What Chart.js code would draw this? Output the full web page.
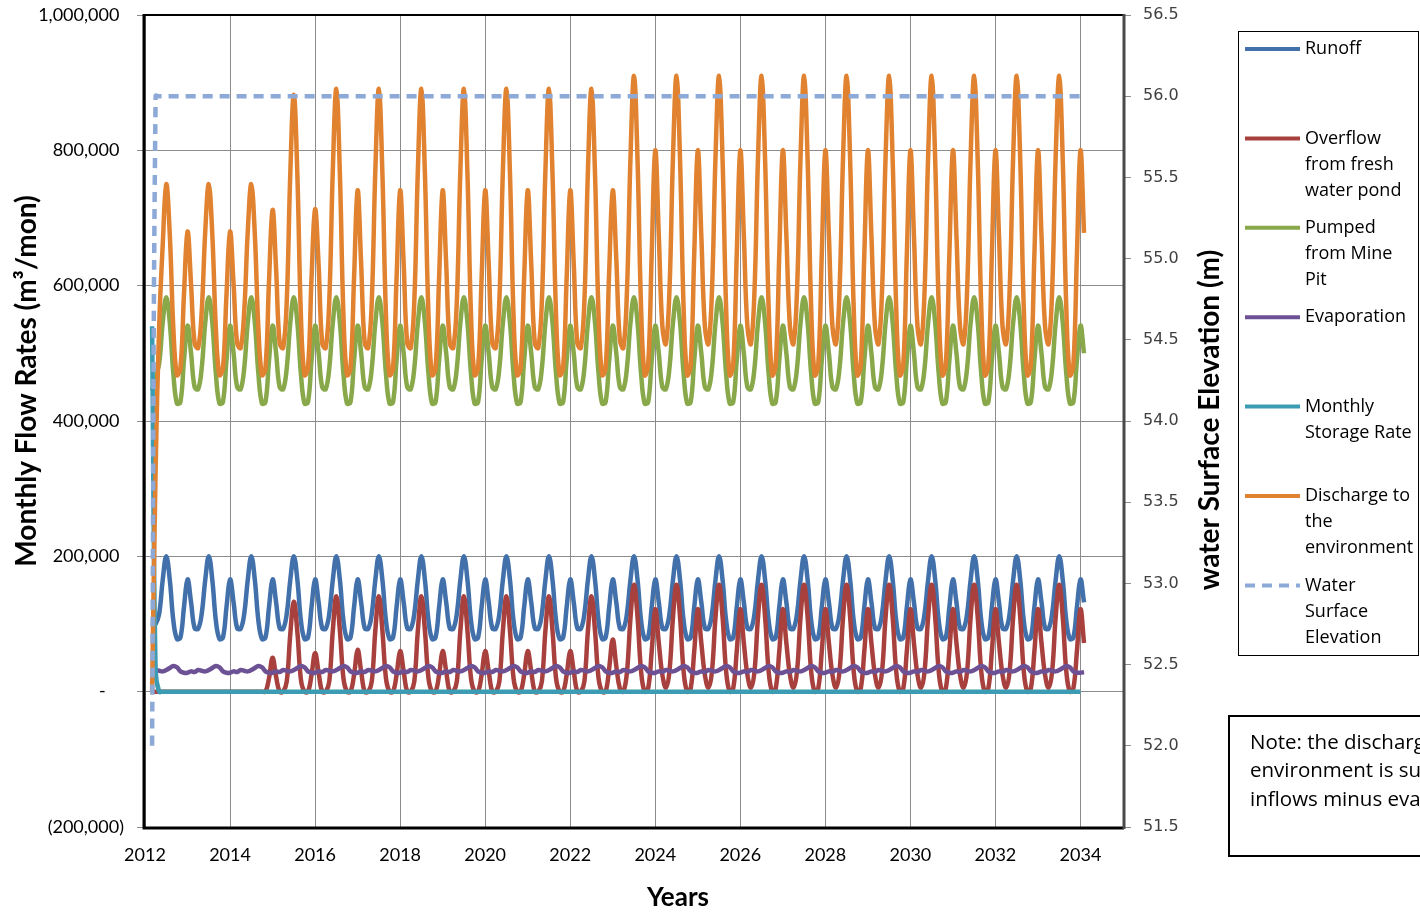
<!DOCTYPE html>
<html>
<head>
<meta charset="utf-8">
<title>Monthly Flow Rates</title>
<script src="https://cdn.jsdelivr.net/npm/chart.js@4.4.0/dist/chart.umd.min.js"></script>
<style>
    html, body { margin: 0; padding: 0; background: #ffffff; }
    #wrap { position: relative; width: 1420px; height: 913px; }
</style>
</head>
<body>
<div id="wrap"><canvas id="flow-chart" width="1420" height="913"></canvas></div>
<script>
// Monthly series, values in thousands of m3/mon (first point = Mar 2012, last = Feb 2034)
const runoff = [
    95, 100, 115, 165, 200, 165, 105, 78, 80, 125, // 2012
    166, 132, 94, 93, 115, 165, 200, 165, 105, 78, 80, 125, // 2013
    166, 132, 94, 93, 115, 165, 200, 165, 105, 78, 80, 125, // 2014
    166, 132, 94, 93, 115, 165, 200, 165, 105, 78, 80, 125, // 2015
    166, 132, 94, 93, 115, 165, 200, 165, 105, 78, 80, 125, // 2016
    166, 132, 94, 93, 115, 165, 200, 165, 105, 78, 80, 125, // 2017
    166, 132, 94, 93, 115, 165, 200, 165, 105, 78, 80, 125, // 2018
    166, 132, 94, 93, 115, 165, 200, 165, 105, 78, 80, 125, // 2019
    166, 132, 94, 93, 115, 165, 200, 165, 105, 78, 80, 125, // 2020
    166, 132, 94, 93, 115, 165, 200, 165, 105, 78, 80, 125, // 2021
    166, 132, 94, 93, 115, 165, 200, 165, 105, 78, 80, 125, // 2022
    166, 132, 94, 93, 115, 165, 200, 165, 105, 78, 80, 125, // 2023
    166, 132, 94, 93, 115, 165, 200, 165, 105, 78, 80, 125, // 2024
    166, 132, 94, 93, 115, 165, 200, 165, 105, 78, 80, 125, // 2025
    166, 132, 94, 93, 115, 165, 200, 165, 105, 78, 80, 125, // 2026
    166, 132, 94, 93, 115, 165, 200, 165, 105, 78, 80, 125, // 2027
    166, 132, 94, 93, 115, 165, 200, 165, 105, 78, 80, 125, // 2028
    166, 132, 94, 93, 115, 165, 200, 165, 105, 78, 80, 125, // 2029
    166, 132, 94, 93, 115, 165, 200, 165, 105, 78, 80, 125, // 2030
    166, 132, 94, 93, 115, 165, 200, 165, 105, 78, 80, 125, // 2031
    166, 132, 94, 93, 115, 165, 200, 165, 105, 78, 80, 125, // 2032
    166, 132, 94, 93, 115, 165, 200, 165, 105, 78, 80, 125, // 2033
    166, 132, // 2034
];

const overflow = [
    0, 0, 0, 0, 0, 0, 0, 0, 0, 0, // 2012
    0, 0, 0, 0, 0, 0, 0, 0, 0, 0, 0, 0, // 2013
    0, 0, 0, 0, 0, 0, 0, 0, 0, 0, 0, 20, // 2014
    50, 22, 0, 0, 15, 85, 133, 88, 18, 0, 0, 25, // 2015
    57, 28, 0, 0, 15, 90, 141, 90, 20, 0, 0, 25, // 2016
    62, 30, 0, 0, 15, 90, 141, 90, 20, 0, 0, 25, // 2017
    60, 30, 0, 0, 15, 90, 141, 90, 20, 0, 0, 25, // 2018
    60, 30, 0, 0, 15, 90, 141, 90, 20, 0, 0, 25, // 2019
    60, 30, 0, 0, 15, 90, 141, 90, 20, 0, 0, 25, // 2020
    60, 30, 0, 0, 15, 90, 141, 90, 20, 0, 0, 25, // 2021
    60, 30, 0, 0, 15, 90, 141, 90, 20, 0, 0, 35, // 2022
    77, 38, 5, 0, 28, 108, 158, 110, 30, 0, 5, 60, // 2023
    122, 72, 25, 6, 30, 110, 158, 110, 30, 0, 5, 60, // 2024
    122, 72, 25, 6, 30, 110, 158, 110, 30, 0, 5, 60, // 2025
    122, 72, 25, 6, 30, 110, 158, 110, 30, 0, 5, 60, // 2026
    122, 72, 25, 6, 30, 110, 158, 110, 30, 0, 5, 60, // 2027
    122, 72, 25, 6, 30, 110, 158, 110, 30, 0, 5, 60, // 2028
    122, 72, 25, 6, 30, 110, 158, 110, 30, 0, 5, 60, // 2029
    122, 72, 25, 6, 30, 110, 158, 110, 30, 0, 5, 60, // 2030
    122, 72, 25, 6, 30, 110, 158, 110, 30, 0, 5, 60, // 2031
    122, 72, 25, 6, 30, 110, 158, 110, 30, 0, 5, 60, // 2032
    122, 72, 25, 6, 30, 110, 158, 110, 30, 0, 5, 60, // 2033
    122, 72, // 2034
];

const pumped = [
    445, 465, 485, 545, 583, 545, 470, 426, 428, 490, // 2012
    541, 500, 450, 447, 478, 545, 583, 545, 470, 426, 428, 490, // 2013
    541, 500, 450, 447, 478, 545, 583, 545, 470, 426, 428, 490, // 2014
    541, 500, 450, 447, 478, 545, 583, 545, 470, 426, 428, 490, // 2015
    541, 500, 450, 447, 478, 545, 583, 545, 470, 426, 428, 490, // 2016
    541, 500, 450, 447, 478, 545, 583, 545, 470, 426, 428, 490, // 2017
    541, 500, 450, 447, 478, 545, 583, 545, 470, 426, 428, 490, // 2018
    541, 500, 450, 447, 478, 545, 583, 545, 470, 426, 428, 490, // 2019
    541, 500, 450, 447, 478, 545, 583, 545, 470, 426, 428, 490, // 2020
    541, 500, 450, 447, 478, 545, 583, 545, 470, 426, 428, 490, // 2021
    541, 500, 450, 447, 478, 545, 583, 545, 470, 426, 428, 490, // 2022
    541, 500, 450, 447, 478, 545, 583, 545, 470, 426, 428, 490, // 2023
    541, 500, 450, 447, 478, 545, 583, 545, 470, 426, 428, 490, // 2024
    541, 500, 450, 447, 478, 545, 583, 545, 470, 426, 428, 490, // 2025
    541, 500, 450, 447, 478, 545, 583, 545, 470, 426, 428, 490, // 2026
    541, 500, 450, 447, 478, 545, 583, 545, 470, 426, 428, 490, // 2027
    541, 500, 450, 447, 478, 545, 583, 545, 470, 426, 428, 490, // 2028
    541, 500, 450, 447, 478, 545, 583, 545, 470, 426, 428, 490, // 2029
    541, 500, 450, 447, 478, 545, 583, 545, 470, 426, 428, 490, // 2030
    541, 500, 450, 447, 478, 545, 583, 545, 470, 426, 428, 490, // 2031
    541, 500, 450, 447, 478, 545, 583, 545, 470, 426, 428, 490, // 2032
    541, 500, 450, 447, 478, 545, 583, 545, 470, 426, 428, 490, // 2033
    541, 500, // 2034
];

const evaporation = [
    30, 32, 31, 30, 32, 35, 38, 36, 30, 28, // 2012
    28, 30, 29, 32, 31, 30, 32, 35, 38, 36, 30, 28, // 2013
    28, 30, 29, 32, 31, 30, 32, 35, 38, 36, 30, 28, // 2014
    28, 30, 29, 32, 31, 30, 32, 35, 38, 36, 30, 28, // 2015
    28, 30, 29, 32, 31, 30, 32, 35, 38, 36, 30, 28, // 2016
    28, 30, 29, 32, 31, 30, 32, 35, 38, 36, 30, 28, // 2017
    28, 30, 29, 32, 31, 30, 32, 35, 38, 36, 30, 28, // 2018
    28, 30, 29, 32, 31, 30, 32, 35, 38, 36, 30, 28, // 2019
    28, 30, 29, 32, 31, 30, 32, 35, 38, 36, 30, 28, // 2020
    28, 30, 29, 32, 31, 30, 32, 35, 38, 36, 30, 28, // 2021
    28, 30, 29, 32, 31, 30, 32, 35, 38, 36, 30, 28, // 2022
    28, 30, 29, 32, 31, 30, 32, 35, 38, 36, 30, 28, // 2023
    28, 30, 29, 32, 31, 30, 32, 35, 38, 36, 30, 28, // 2024
    28, 30, 29, 32, 31, 30, 32, 35, 38, 36, 30, 28, // 2025
    28, 30, 29, 32, 31, 30, 32, 35, 38, 36, 30, 28, // 2026
    28, 30, 29, 32, 31, 30, 32, 35, 38, 36, 30, 28, // 2027
    28, 30, 29, 32, 31, 30, 32, 35, 38, 36, 30, 28, // 2028
    28, 30, 29, 32, 31, 30, 32, 35, 38, 36, 30, 28, // 2029
    28, 30, 29, 32, 31, 30, 32, 35, 38, 36, 30, 28, // 2030
    28, 30, 29, 32, 31, 30, 32, 35, 38, 36, 30, 28, // 2031
    28, 30, 29, 32, 31, 30, 32, 35, 38, 36, 30, 28, // 2032
    28, 30, 29, 32, 31, 30, 32, 35, 38, 36, 30, 28, // 2033
    28, 29, // 2034
];

const storageRate = [
    540, 30, 0, 0, 0, 0, 0, 0, 0, 0, // 2012
    0, 0, 0, 0, 0, 0, 0, 0, 0, 0, 0, 0, // 2013
    0, 0, 0, 0, 0, 0, 0, 0, 0, 0, 0, 0, // 2014
    0, 0, 0, 0, 0, 0, 0, 0, 0, 0, 0, 0, // 2015
    0, 0, 0, 0, 0, 0, 0, 0, 0, 0, 0, 0, // 2016
    0, 0, 0, 0, 0, 0, 0, 0, 0, 0, 0, 0, // 2017
    0, 0, 0, 0, 0, 0, 0, 0, 0, 0, 0, 0, // 2018
    0, 0, 0, 0, 0, 0, 0, 0, 0, 0, 0, 0, // 2019
    0, 0, 0, 0, 0, 0, 0, 0, 0, 0, 0, 0, // 2020
    0, 0, 0, 0, 0, 0, 0, 0, 0, 0, 0, 0, // 2021
    0, 0, 0, 0, 0, 0, 0, 0, 0, 0, 0, 0, // 2022
    0, 0, 0, 0, 0, 0, 0, 0, 0, 0, 0, 0, // 2023
    0, 0, 0, 0, 0, 0, 0, 0, 0, 0, 0, 0, // 2024
    0, 0, 0, 0, 0, 0, 0, 0, 0, 0, 0, 0, // 2025
    0, 0, 0, 0, 0, 0, 0, 0, 0, 0, 0, 0, // 2026
    0, 0, 0, 0, 0, 0, 0, 0, 0, 0, 0, 0, // 2027
    0, 0, 0, 0, 0, 0, 0, 0, 0, 0, 0, 0, // 2028
    0, 0, 0, 0, 0, 0, 0, 0, 0, 0, 0, 0, // 2029
    0, 0, 0, 0, 0, 0, 0, 0, 0, 0, 0, 0, // 2030
    0, 0, 0, 0, 0, 0, 0, 0, 0, 0, 0, 0, // 2031
    0, 0, 0, 0, 0, 0, 0, 0, 0, 0, 0, 0, // 2032
    0, 0, 0, 0, 0, 0, 0, 0, 0, 0, 0, 0, // 2033
    0, null, // 2034
];

const discharge = [
    0, 330, 540, 660, 750, 675, 537, 468, 478, 587, // 2012
    680, 602, 515, 508, 562, 680, 750, 675, 537, 468, 478, 587, // 2013
    680, 602, 515, 508, 562, 680, 750, 675, 537, 468, 478, 607, // 2014
    712, 624, 515, 508, 577, 765, 882, 763, 555, 468, 478, 612, // 2015
    713, 630, 515, 508, 577, 770, 891, 765, 557, 468, 478, 612, // 2016
    741, 632, 515, 508, 577, 770, 891, 765, 557, 468, 478, 612, // 2017
    741, 632, 515, 508, 577, 770, 891, 765, 557, 468, 478, 612, // 2018
    741, 632, 515, 508, 577, 770, 891, 765, 557, 468, 478, 612, // 2019
    741, 632, 515, 508, 577, 770, 891, 765, 557, 468, 478, 612, // 2020
    741, 632, 515, 508, 577, 770, 891, 765, 557, 468, 478, 612, // 2021
    741, 632, 515, 508, 577, 770, 891, 765, 557, 468, 478, 622, // 2022
    741, 640, 520, 508, 590, 788, 910, 785, 567, 468, 483, 647, // 2023
    800, 674, 540, 514, 592, 790, 910, 785, 567, 468, 483, 647, // 2024
    800, 674, 540, 514, 592, 790, 910, 785, 567, 468, 483, 647, // 2025
    800, 674, 540, 514, 592, 790, 910, 785, 567, 468, 483, 647, // 2026
    800, 674, 540, 514, 592, 790, 910, 785, 567, 468, 483, 647, // 2027
    800, 674, 540, 514, 592, 790, 910, 785, 567, 468, 483, 647, // 2028
    800, 674, 540, 514, 592, 790, 910, 785, 567, 468, 483, 647, // 2029
    800, 674, 540, 514, 592, 790, 910, 785, 567, 468, 483, 647, // 2030
    800, 674, 540, 514, 592, 790, 910, 785, 567, 468, 483, 647, // 2031
    800, 674, 540, 514, 592, 790, 910, 785, 567, 468, 483, 647, // 2032
    800, 674, 540, 514, 592, 790, 910, 785, 567, 468, 483, 647, // 2033
    800, 678, // 2034
];

// Water surface elevation (m), right axis
const surfaceElevation = [
    52.0, 56.0, 56.0, 56.0, 56.0, 56.0, 56.0, 56.0, 56.0, 56.0, // 2012
    56.0, 56.0, 56.0, 56.0, 56.0, 56.0, 56.0, 56.0, 56.0, 56.0, 56.0, 56.0, // 2013
    56.0, 56.0, 56.0, 56.0, 56.0, 56.0, 56.0, 56.0, 56.0, 56.0, 56.0, 56.0, // 2014
    56.0, 56.0, 56.0, 56.0, 56.0, 56.0, 56.0, 56.0, 56.0, 56.0, 56.0, 56.0, // 2015
    56.0, 56.0, 56.0, 56.0, 56.0, 56.0, 56.0, 56.0, 56.0, 56.0, 56.0, 56.0, // 2016
    56.0, 56.0, 56.0, 56.0, 56.0, 56.0, 56.0, 56.0, 56.0, 56.0, 56.0, 56.0, // 2017
    56.0, 56.0, 56.0, 56.0, 56.0, 56.0, 56.0, 56.0, 56.0, 56.0, 56.0, 56.0, // 2018
    56.0, 56.0, 56.0, 56.0, 56.0, 56.0, 56.0, 56.0, 56.0, 56.0, 56.0, 56.0, // 2019
    56.0, 56.0, 56.0, 56.0, 56.0, 56.0, 56.0, 56.0, 56.0, 56.0, 56.0, 56.0, // 2020
    56.0, 56.0, 56.0, 56.0, 56.0, 56.0, 56.0, 56.0, 56.0, 56.0, 56.0, 56.0, // 2021
    56.0, 56.0, 56.0, 56.0, 56.0, 56.0, 56.0, 56.0, 56.0, 56.0, 56.0, 56.0, // 2022
    56.0, 56.0, 56.0, 56.0, 56.0, 56.0, 56.0, 56.0, 56.0, 56.0, 56.0, 56.0, // 2023
    56.0, 56.0, 56.0, 56.0, 56.0, 56.0, 56.0, 56.0, 56.0, 56.0, 56.0, 56.0, // 2024
    56.0, 56.0, 56.0, 56.0, 56.0, 56.0, 56.0, 56.0, 56.0, 56.0, 56.0, 56.0, // 2025
    56.0, 56.0, 56.0, 56.0, 56.0, 56.0, 56.0, 56.0, 56.0, 56.0, 56.0, 56.0, // 2026
    56.0, 56.0, 56.0, 56.0, 56.0, 56.0, 56.0, 56.0, 56.0, 56.0, 56.0, 56.0, // 2027
    56.0, 56.0, 56.0, 56.0, 56.0, 56.0, 56.0, 56.0, 56.0, 56.0, 56.0, 56.0, // 2028
    56.0, 56.0, 56.0, 56.0, 56.0, 56.0, 56.0, 56.0, 56.0, 56.0, 56.0, 56.0, // 2029
    56.0, 56.0, 56.0, 56.0, 56.0, 56.0, 56.0, 56.0, 56.0, 56.0, 56.0, 56.0, // 2030
    56.0, 56.0, 56.0, 56.0, 56.0, 56.0, 56.0, 56.0, 56.0, 56.0, 56.0, 56.0, // 2031
    56.0, 56.0, 56.0, 56.0, 56.0, 56.0, 56.0, 56.0, 56.0, 56.0, 56.0, 56.0, // 2032
    56.0, 56.0, 56.0, 56.0, 56.0, 56.0, 56.0, 56.0, 56.0, 56.0, 56.0, 56.0, // 2033
    56.0, 56.0, // 2034
];

// Axis ticks
const yearTicks = [2012, 2014, 2016, 2018, 2020, 2022, 2024, 2026, 2028, 2030, 2032, 2034];
const flowTicks = [-200, 0, 200, 400, 600, 800, 1000];
const elevationTicks = [51.5, 52.0, 52.5, 53.0, 53.5, 54.0, 54.5, 55.0, 55.5, 56.0, 56.5];

// Month stamps as decimal years, one per data point, starting Mar 2012
const firstMonth = 2;
const months = runoff.map((_, i) => 2012 + (firstMonth + i) / 12);

const seriesNames = [
    ["Runoff"],
    ["Overflow", "from fresh", "water pond"],
    ["Pumped", "from Mine", "Pit"],
    ["Evaporation"],
    ["Monthly", "Storage Rate"],
    ["Discharge to", "the", "environment"],
    ["Water", "Surface", "Elevation"],
];

const toPoints = (values) => values.map((v, i) => ({ x: months[i], y: v }));

const makeSeries = (name, values, color, axis, dashed) => ({
    label: name.join(" "),
    legendLines: name,
    data: toPoints(values),
    yAxisID: axis,
    borderColor: color,
    backgroundColor: color,
    borderWidth: 4.5,
    borderDash: dashed ? [10, 7] : [],
    pointRadius: 0,
    tension: 0.4,
    fill: false,
});

const datasets = [
    makeSeries(seriesNames[0], runoff, "#4170AA", "yFlow", false),
    makeSeries(seriesNames[1], overflow, "#A8403D", "yFlow", false),
    makeSeries(seriesNames[2], pumped, "#88A84A", "yFlow", false),
    makeSeries(seriesNames[3], evaporation, "#6D5195", "yFlow", false),
    makeSeries(seriesNames[4], storageRate, "#3C9CB4", "yFlow", false),
    makeSeries(seriesNames[5], discharge, "#E0822F", "yFlow", false),
    makeSeries(seriesNames[6], surfaceElevation, "#8DA9D7", "yElev", true),
];
// later series sit on top, like the original
datasets.forEach((ds, i) => { ds.order = datasets.length - 1 - i; });

const formatFlow = (v) => {
    if (v === 0) return "-    ";
    const n = Math.abs(v * 1000).toLocaleString("en-US");
    return v < 0 ? `(${n})` : `${n} `;
};

// drop the extra room Chart.js keeps for half tick labels
const noLabelPadding = (axis) => {
    axis.paddingTop = 0;
    axis.paddingBottom = 0;
    axis.paddingLeft = 0;
    axis.paddingRight = 0;
};

// Frame, axis titles, legend and note box
const decorations = {
    id: "decorations",
    afterDraw(chart) {
        const { ctx, chartArea: a } = chart;
        ctx.save();

        // plot frame
        ctx.lineCap = "butt";
        ctx.strokeStyle = "#000000";
        ctx.lineWidth = 2;
        ctx.beginPath();
        ctx.moveTo(a.left, a.top);
        ctx.lineTo(a.right, a.top);
        ctx.stroke();
        ctx.lineWidth = 3;
        ctx.beginPath();
        ctx.moveTo(a.left - 1, a.top - 1);
        ctx.lineTo(a.left - 1, a.bottom + 1);
        ctx.lineTo(a.right + 1, a.bottom + 1);
        ctx.stroke();
        ctx.strokeStyle = "#4a4a4a";
        ctx.beginPath();
        ctx.moveTo(a.right + 1, a.top - 1);
        ctx.lineTo(a.right + 1, a.bottom + 2);
        ctx.stroke();

        // axis titles
        ctx.fillStyle = "#000000";
        ctx.textAlign = "center";
        ctx.textBaseline = "middle";
        ctx.font = "bold 26px Lato";
        ctx.fillText("Years", 678, 898);

        ctx.font = "bold 28px Lato";
        ctx.save();
        ctx.translate(27, 381);
        ctx.rotate(-Math.PI / 2);
        ctx.fillText("Monthly Flow Rates (m\u00B3/mon)", 0, 0);
        ctx.restore();

        ctx.save();
        ctx.translate(1210, 420);
        ctx.rotate(-Math.PI / 2);
        ctx.fillText("water Surface Elevation (m)", 0, 0);
        ctx.restore();

        // legend
        ctx.lineWidth = 1;
        ctx.strokeStyle = "#000000";
        ctx.strokeRect(1238.5, 31.5, 180, 624);
        ctx.font = "18px 'Open Sans'";
        ctx.textAlign = "left";
        chart.data.datasets.forEach((ds, i) => {
            const y = 49 + i * 89.4;
            ctx.strokeStyle = ds.borderColor;
            ctx.lineWidth = 4;
            ctx.setLineDash(ds.borderDash);
            ctx.beginPath();
            ctx.moveTo(1245, y);
            ctx.lineTo(1300, y);
            ctx.stroke();
            ctx.setLineDash([]);
            ctx.fillStyle = "#000000";
            ds.legendLines.forEach((line, j) => {
                ctx.fillText(line, 1305, y + j * 26);
            });
        });

        // note box, runs off the right edge
        ctx.lineWidth = 2;
        ctx.strokeStyle = "#000000";
        ctx.strokeRect(1229, 716, 400, 140);
        ctx.font = "20.5px 'Open Sans'";
        ctx.fillStyle = "#000000";
        ctx.fillText("Note: the discharge to the", 1250, 743);
        ctx.fillText("environment is sum of all", 1250, 771.5);
        ctx.fillText("inflows minus evaporation", 1250, 800);

        ctx.restore();
    },
};

const flowChart = () => {
    const ctx = document.getElementById("flow-chart");
    if (!ctx) return;

    new Chart(ctx, {
        type: "line",
        data: { datasets },
        options: {
            responsive: false,
            animation: false,
            layout: { padding: { left: 0, top: 15, right: 0, bottom: 0 } },
            plugins: {
                legend: { display: false },
                tooltip: { enabled: false },
            },
            scales: {
                x: {
                    type: "linear",
                    min: 2012,
                    max: 2035,
                    afterBuildTicks: (axis) => {
                        axis.ticks = yearTicks.map((v) => ({ value: v }));
                    },
                    afterFit: (axis) => {
                        axis.height = 86;
                        noLabelPadding(axis);
                    },
                    grid: { color: "#8c8c8c", lineWidth: 1, drawTicks: false },
                    border: { display: false },
                    ticks: {
                        padding: 17,
                        maxRotation: 0,
                        autoSkip: false,
                        color: "#000000",
                        font: { family: "Lato", size: 18 },
                        callback: (v) => String(v),
                    },
                },
                yFlow: {
                    type: "linear",
                    position: "left",
                    min: -200,
                    max: 1000,
                    afterBuildTicks: (axis) => {
                        axis.ticks = flowTicks.map((v) => ({ value: v }));
                    },
                    afterFit: (axis) => {
                        axis.width = 145;
                        noLabelPadding(axis);
                    },
                    grid: { color: "#8c8c8c", lineWidth: 1, tickLength: 8, tickColor: "#8c8c8c" },
                    border: { display: false },
                    ticks: {
                        padding: 13,
                        color: "#000000",
                        font: { family: "Lato", size: 18 },
                        callback: formatFlow,
                    },
                },
                yElev: {
                    type: "linear",
                    position: "right",
                    min: 51.5,
                    max: 56.5,
                    afterBuildTicks: (axis) => {
                        axis.ticks = elevationTicks.map((v) => ({ value: v }));
                    },
                    afterFit: (axis) => {
                        axis.width = 297;
                        noLabelPadding(axis);
                    },
                    grid: { drawOnChartArea: false, tickLength: 8, tickColor: "#8c8c8c" },
                    border: { display: false },
                    ticks: {
                        padding: 12,
                        color: "#404040",
                        font: { family: "DejaVu Sans", size: 16 },
                        callback: (v) => v.toFixed(1),
                    },
                },
            },
        },
        plugins: [decorations],
    });
};

flowChart();
</script>
</body>
</html>
